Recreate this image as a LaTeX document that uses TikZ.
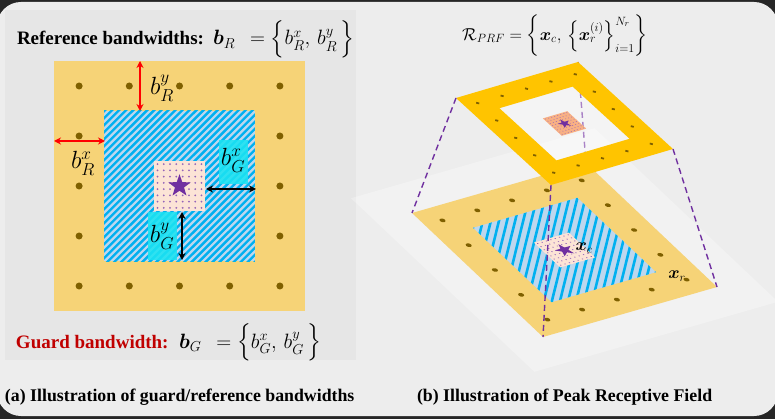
\documentclass[tikz,border=0pt]{standalone}
\usepackage{amsmath}
\usepackage{bm}
\usepackage{fontspec}
\setmainfont{Liberation Serif}
\usetikzlibrary{arrows.meta}
\definecolor{bgdark}{HTML}{262626}
\definecolor{panel}{HTML}{EDEDED}
\definecolor{leftbox}{HTML}{E6E6E6}
\definecolor{refyel}{HTML}{F6D377}
\definecolor{goldf}{HTML}{FFC400}
\definecolor{dotc}{HTML}{7F6000}
\definecolor{hatchbg}{HTML}{BDD7EE}
\definecolor{hatchfg}{HTML}{00B0F0}
\definecolor{peach}{HTML}{FCE4D6}
\definecolor{peachdk}{HTML}{F8B084}
\definecolor{purp}{HTML}{7030A0}
\definecolor{cyanb}{HTML}{1CE3F2}
\definecolor{guardred}{HTML}{C00000}
\newcommand{\sqp}[4]{(#1,#2) -- (#3,#2) -- (#3,#4) -- (#1,#4) -- cycle}
\newcommand{\ringdots}{%
  \foreach \a/\b in {0.1/0.1,0.3/0.1,0.5/0.1,0.7/0.1,0.9/0.1,0.1/0.9,0.3/0.9,0.5/0.9,0.7/0.9,0.9/0.9,0.1/0.3,0.1/0.5,0.1/0.7,0.9/0.3,0.9/0.5,0.9/0.7}
    {\fill[dotc] (\a,\b) circle[radius=0.014];}}
\newcommand{\peachdots}{%
  \foreach \i in {0,...,7}{\foreach \j in {0,...,7}
    {\fill[purp!75] ({0.4125+0.025*\i},{0.4125+0.025*\j}) circle[radius=0.004];}}}
\newcommand{\pstar}{%
  \fill[purp,shift={(0.5,0.5)}] (-90:0.047) -- (-54:0.019) -- (-18:0.047) -- (18:0.019) -- (54:0.047) -- (90:0.019) -- (126:0.047) -- (162:0.019) -- (198:0.047) -- (234:0.019) -- cycle;}
\begin{document}
\begin{tikzpicture}[x=1pt,y=-1pt,
  txt/.style={inner sep=0pt,outer sep=0pt},
  redarr/.style={draw=red,line width=1.6pt,{Stealth[length=7pt,width=7pt]}-{Stealth[length=7pt,width=7pt]}},
  blkarr/.style={draw=black,line width=1.6pt,{Stealth[length=7pt,width=7pt]}-{Stealth[length=7pt,width=7pt]}},
  prfdash/.style={draw=purp,line width=1.4pt,dash pattern=on 6pt off 4pt},
  bigm/.style={txt,font=\fontsize{24}{26}\selectfont},
  ttl/.style={txt,anchor=base west,font=\fontsize{19}{22}\selectfont\bfseries},
  captext/.style={txt,anchor=base west,font=\fontsize{17.8}{20}\selectfont\bfseries}]
\useasboundingbox (0,0) rectangle (775,419);
\fill[bgdark] (0,0) rectangle (775,419);
\fill[panel,rounded corners=24pt] (-3,2) rectangle (778,416);
\fill[leftbox] (5,10) rectangle (356,360);

% ---------------- left diagram ----------------
\begin{scope}[shift={(54pt,-61pt)},x={(251pt,0pt)},y={(0pt,-250pt)}]
  \fill[refyel] \sqp{0}{0}{1}{1};
  \fill[hatchbg] \sqp{0.2}{0.2}{0.8}{0.8};
  \begin{scope}
    \clip \sqp{0.2}{0.2}{0.8}{0.8};
    \foreach \c in {0.40,0.428,...,1.62}
      {\draw[hatchfg,line width=2.4pt] ({\c+0.5},-0.5) -- ({\c-1.5},1.5);}
  \end{scope}
  \ringdots
  \fill[cyanb,opacity=0.88] \sqp{0.657}{0.316}{0.773}{0.492};
  \fill[cyanb,opacity=0.88] \sqp{0.375}{0.604}{0.49}{0.796};
  \fill[peach] \sqp{0.4}{0.4}{0.6}{0.6};
  \peachdots
  \pstar
\end{scope}

\coordinate (ry1) at (140,61);  \coordinate (ry2) at (140,111);
\coordinate (rx1) at (54,141);  \coordinate (rx2) at (105,141);
\coordinate (gx1) at (206,189); \coordinate (gx2) at (256,189);
\coordinate (gy1) at (182,212); \coordinate (gy2) at (182,260);
\draw[redarr] (ry1) -- (ry2);
\draw[redarr] (rx1) -- (rx2);
\draw[blkarr] (gx1) -- (gx2);
\draw[blkarr] (gy1) -- (gy2);
\node[bigm] (lbry) at (162,88) {$b_{R}^{y}$};
\node[bigm] (lbrx) at (83,163) {$b_{R}^{x}$};
\node[bigm] (lbgx) at (233,160) {$b_{G}^{x}$};
\node[bigm] (lbgy) at (162,236) {$b_{G}^{y}$};

\node[ttl] (reft) at (17,45) {Reference bandwidths:};
\node[txt,anchor=base west,font=\fontsize{21}{24}\selectfont] (refm) at (213,45)
  {$\bm{b}_{R}\;\,=\Bigl\{b_{R}^{x},\,b_{R}^{y}\,\Bigr\}$};
\node[ttl,text=guardred] (gdt) at (16,348) {Guard bandwidth:};
\node[txt,anchor=base west,font=\fontsize{21}{24}\selectfont] (gdm) at (179,348)
  {$\bm{b}_{G}\;\,=\Bigl\{b_{G}^{x},\,b_{G}^{y}\,\Bigr\}$};
\node[captext] (capa) at (5,401) {(a) Illustration of guard/reference bandwidths};

% ---------------- right diagram ----------------
% lower plane
\begin{scope}[shift={(412pt,-213pt)},x={(174pt,50pt)},y={(131pt,-124pt)}]
  \fill[white,opacity=0.28] \sqp{-0.2}{-0.2}{1.2}{1.2};
  \fill[refyel] \sqp{0}{0}{1}{1};
  \fill[hatchbg] \sqp{0.2}{0.2}{0.8}{0.8};
  \begin{scope}
    \clip \sqp{0.2}{0.2}{0.8}{0.8};
    \foreach \c in {0.40,0.45,...,1.62}
      {\draw[hatchfg,line width=2.6pt] ({\c+0.5},-0.5) -- ({\c-1.5},1.5);}
  \end{scope}
  \ringdots
  \fill[peach] \sqp{0.4}{0.4}{0.6}{0.6};
  \peachdots
  \pstar
\end{scope}
\node[txt,font=\fontsize{18}{20}\selectfont] (xc) at (584,248) {$\bm{x}_{c}$};
\node[txt,font=\fontsize{18}{20}\selectfont] (xr) at (677,276) {$\bm{x}_{r}$};

\coordinate (tl) at (456,98);  \coordinate (tt) at (578,62);
\coordinate (tr) at (673,149); \coordinate (tb) at (551,185);
\coordinate (bl) at (412,213); \coordinate (bt) at (586,163);
\coordinate (br) at (717,287); \coordinate (bb) at (543,337);
\draw[prfdash] (tt) -- (bt);
\draw[prfdash] (tb) -- (bb);

% upper frame
\begin{scope}[shift={(456pt,-98pt)},x={(122pt,36pt)},y={(95pt,-87pt)}]
  \fill[white,opacity=0.4] \sqp{0.2}{0.2}{0.8}{0.8};
  \fill[goldf,even odd rule] \sqp{0}{0}{1}{1} \sqp{0.2}{0.2}{0.8}{0.8};
  \ringdots
  \fill[peachdk] \sqp{0.4}{0.4}{0.6}{0.6};
  \peachdots
  \pstar
\end{scope}
\draw[prfdash] (tl) -- (bl);
\draw[prfdash] (tr) -- (br);

\node[txt,font=\fontsize{17.5}{20}\selectfont] (prf) at (555,36)
  {$\mathcal{R}_{PRF}=\left\{\bm{x}_{c},\,\left\{\bm{x}_{r}^{(i)}\right\}_{i=1}^{N_r}\right\}$};
\node[captext] (capb) at (417,401) {(b) Illustration of Peak Receptive Field};
\end{tikzpicture}
\end{document}
